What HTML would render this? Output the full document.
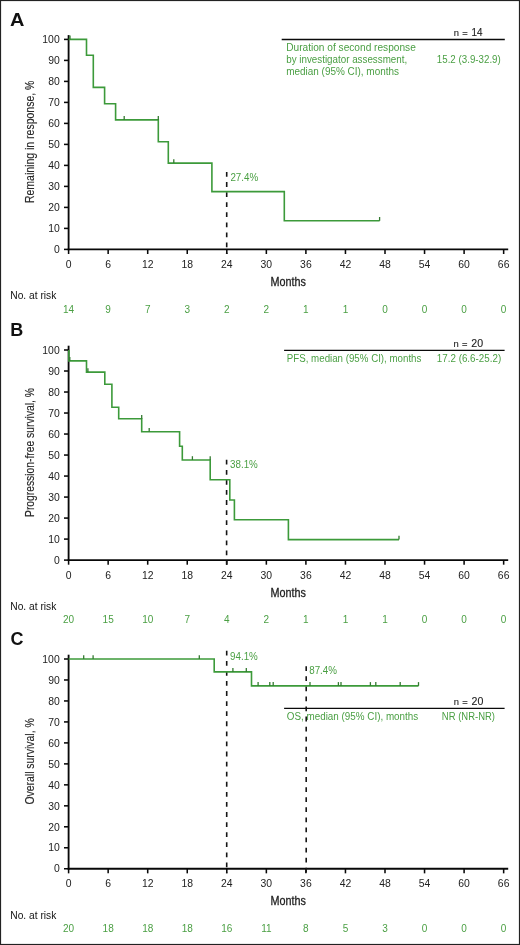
<!DOCTYPE html><html><head><meta charset="utf-8"><style>
html,body{margin:0;padding:0;background:#fff;}
body{width:520px;height:945px;overflow:hidden;position:relative;}
svg{position:absolute;left:0;top:0;display:block;will-change:transform;}
text{font-family:"Liberation Sans", sans-serif;}
</style></head><body>
<svg width="520" height="945" viewBox="0 0 520 945">
<rect x="0.5" y="0.5" width="519" height="944" fill="#fff" stroke="#222" stroke-width="1.2"/>
<text x="10.0" y="25.8" font-size="18" font-weight="bold" fill="#111" textLength="14.4" lengthAdjust="spacingAndGlyphs">A</text>
<g stroke="#080808" stroke-width="1.85" fill="none">
<line x1="68.60" y1="35.10" x2="68.60" y2="250.25"/>
<line x1="67.75" y1="249.40" x2="508.20" y2="249.40"/>
</g>
<g stroke="#080808" stroke-width="1.55" fill="none">
<line x1="64.00" y1="249.40" x2="68.60" y2="249.40"/>
<line x1="64.00" y1="228.40" x2="68.60" y2="228.40"/>
<line x1="64.00" y1="207.40" x2="68.60" y2="207.40"/>
<line x1="64.00" y1="186.40" x2="68.60" y2="186.40"/>
<line x1="64.00" y1="165.40" x2="68.60" y2="165.40"/>
<line x1="64.00" y1="144.40" x2="68.60" y2="144.40"/>
<line x1="64.00" y1="123.40" x2="68.60" y2="123.40"/>
<line x1="64.00" y1="102.40" x2="68.60" y2="102.40"/>
<line x1="64.00" y1="81.40" x2="68.60" y2="81.40"/>
<line x1="64.00" y1="60.40" x2="68.60" y2="60.40"/>
<line x1="64.00" y1="39.40" x2="68.60" y2="39.40"/>
<line x1="68.60" y1="249.40" x2="68.60" y2="254.00"/>
<line x1="108.15" y1="249.40" x2="108.15" y2="254.00"/>
<line x1="147.70" y1="249.40" x2="147.70" y2="254.00"/>
<line x1="187.25" y1="249.40" x2="187.25" y2="254.00"/>
<line x1="226.80" y1="249.40" x2="226.80" y2="254.00"/>
<line x1="266.35" y1="249.40" x2="266.35" y2="254.00"/>
<line x1="305.90" y1="249.40" x2="305.90" y2="254.00"/>
<line x1="345.45" y1="249.40" x2="345.45" y2="254.00"/>
<line x1="385.00" y1="249.40" x2="385.00" y2="254.00"/>
<line x1="424.55" y1="249.40" x2="424.55" y2="254.00"/>
<line x1="464.10" y1="249.40" x2="464.10" y2="254.00"/>
<line x1="503.65" y1="249.40" x2="503.65" y2="254.00"/>
</g>
<g font-size="10.4" fill="#222" text-anchor="end">
<text x="59.7" y="253.10">0</text>
<text x="59.7" y="232.10">10</text>
<text x="59.7" y="211.10">20</text>
<text x="59.7" y="190.10">30</text>
<text x="59.7" y="169.10">40</text>
<text x="59.7" y="148.10">50</text>
<text x="59.7" y="127.10">60</text>
<text x="59.7" y="106.10">70</text>
<text x="59.7" y="85.10">80</text>
<text x="59.7" y="64.10">90</text>
<text x="59.7" y="43.10">100</text>
</g>
<g font-size="10.4" fill="#222" text-anchor="middle">
<text x="68.60" y="267.80">0</text>
<text x="108.15" y="267.80">6</text>
<text x="147.70" y="267.80">12</text>
<text x="187.25" y="267.80">18</text>
<text x="226.80" y="267.80">24</text>
<text x="266.35" y="267.80">30</text>
<text x="305.90" y="267.80">36</text>
<text x="345.45" y="267.80">42</text>
<text x="385.00" y="267.80">48</text>
<text x="424.55" y="267.80">54</text>
<text x="464.10" y="267.80">60</text>
<text x="503.65" y="267.80">66</text>
</g>
<text x="270.6" y="285.90" font-size="13" fill="#222" stroke="#222" stroke-width="0.3" textLength="35.4" lengthAdjust="spacingAndGlyphs">Months</text>
<text x="10.3" y="299.20" font-size="10.1" fill="#111" textLength="46.0" lengthAdjust="spacingAndGlyphs">No. at risk</text>
<g font-size="10" fill="#4a9f43" text-anchor="middle">
<text x="68.60" y="312.70">14</text>
<text x="108.15" y="312.70">9</text>
<text x="147.70" y="312.70">7</text>
<text x="187.25" y="312.70">3</text>
<text x="226.80" y="312.70">2</text>
<text x="266.35" y="312.70">2</text>
<text x="305.90" y="312.70">1</text>
<text x="345.45" y="312.70">1</text>
<text x="385.00" y="312.70">0</text>
<text x="424.55" y="312.70">0</text>
<text x="464.10" y="312.70">0</text>
<text x="503.65" y="312.70">0</text>
</g>
<text transform="translate(33.6,141.85) rotate(-90)" text-anchor="middle" font-size="12" fill="#2a2a2a" stroke="#2a2a2a" stroke-width="0.15" textLength="122.4" lengthAdjust="spacingAndGlyphs">Remaining in response, %</text>
<line x1="226.70" y1="172.00" x2="226.70" y2="254.00" stroke="#151515" stroke-width="1.6" stroke-dasharray="4.8 5.28"/>
<polyline points="68.60,39.40 86.50,39.40 86.50,55.30 93.30,55.30 93.30,87.40 104.60,87.40 104.60,103.80 115.60,103.80 115.60,119.90 158.30,119.90 158.30,141.70 168.30,141.70 168.30,163.10 211.90,163.10 211.90,191.60 284.30,191.60 284.30,220.80 379.60,220.80" fill="none" stroke="#3c9a3a" stroke-width="1.6" stroke-linejoin="miter" stroke-linecap="butt"/>
<g stroke="#347a31" stroke-width="1.3">
<line x1="70.00" y1="35.60" x2="70.00" y2="39.40"/>
<line x1="124.20" y1="116.10" x2="124.20" y2="119.90"/>
<line x1="158.30" y1="116.10" x2="158.30" y2="119.90"/>
<line x1="173.80" y1="159.30" x2="173.80" y2="163.10"/>
<line x1="379.60" y1="217.00" x2="379.60" y2="220.80"/>
</g>
<text x="230.40" y="180.80" font-size="10" fill="#4a9f43" textLength="27.8" lengthAdjust="spacingAndGlyphs">27.4%</text>
<text x="10.3" y="335.7" font-size="18" font-weight="bold" fill="#111">B</text>
<g stroke="#080808" stroke-width="1.85" fill="none">
<line x1="68.60" y1="345.70" x2="68.60" y2="560.95"/>
<line x1="67.75" y1="560.10" x2="508.20" y2="560.10"/>
</g>
<g stroke="#080808" stroke-width="1.55" fill="none">
<line x1="64.00" y1="560.10" x2="68.60" y2="560.10"/>
<line x1="64.00" y1="539.09" x2="68.60" y2="539.09"/>
<line x1="64.00" y1="518.08" x2="68.60" y2="518.08"/>
<line x1="64.00" y1="497.07" x2="68.60" y2="497.07"/>
<line x1="64.00" y1="476.06" x2="68.60" y2="476.06"/>
<line x1="64.00" y1="455.05" x2="68.60" y2="455.05"/>
<line x1="64.00" y1="434.04" x2="68.60" y2="434.04"/>
<line x1="64.00" y1="413.03" x2="68.60" y2="413.03"/>
<line x1="64.00" y1="392.02" x2="68.60" y2="392.02"/>
<line x1="64.00" y1="371.01" x2="68.60" y2="371.01"/>
<line x1="64.00" y1="350.00" x2="68.60" y2="350.00"/>
<line x1="68.60" y1="560.10" x2="68.60" y2="564.70"/>
<line x1="108.15" y1="560.10" x2="108.15" y2="564.70"/>
<line x1="147.70" y1="560.10" x2="147.70" y2="564.70"/>
<line x1="187.25" y1="560.10" x2="187.25" y2="564.70"/>
<line x1="226.80" y1="560.10" x2="226.80" y2="564.70"/>
<line x1="266.35" y1="560.10" x2="266.35" y2="564.70"/>
<line x1="305.90" y1="560.10" x2="305.90" y2="564.70"/>
<line x1="345.45" y1="560.10" x2="345.45" y2="564.70"/>
<line x1="385.00" y1="560.10" x2="385.00" y2="564.70"/>
<line x1="424.55" y1="560.10" x2="424.55" y2="564.70"/>
<line x1="464.10" y1="560.10" x2="464.10" y2="564.70"/>
<line x1="503.65" y1="560.10" x2="503.65" y2="564.70"/>
</g>
<g font-size="10.4" fill="#222" text-anchor="end">
<text x="59.7" y="563.80">0</text>
<text x="59.7" y="542.79">10</text>
<text x="59.7" y="521.78">20</text>
<text x="59.7" y="500.77">30</text>
<text x="59.7" y="479.76">40</text>
<text x="59.7" y="458.75">50</text>
<text x="59.7" y="437.74">60</text>
<text x="59.7" y="416.73">70</text>
<text x="59.7" y="395.72">80</text>
<text x="59.7" y="374.71">90</text>
<text x="59.7" y="353.70">100</text>
</g>
<g font-size="10.4" fill="#222" text-anchor="middle">
<text x="68.60" y="578.50">0</text>
<text x="108.15" y="578.50">6</text>
<text x="147.70" y="578.50">12</text>
<text x="187.25" y="578.50">18</text>
<text x="226.80" y="578.50">24</text>
<text x="266.35" y="578.50">30</text>
<text x="305.90" y="578.50">36</text>
<text x="345.45" y="578.50">42</text>
<text x="385.00" y="578.50">48</text>
<text x="424.55" y="578.50">54</text>
<text x="464.10" y="578.50">60</text>
<text x="503.65" y="578.50">66</text>
</g>
<text x="270.6" y="596.60" font-size="13" fill="#222" stroke="#222" stroke-width="0.3" textLength="35.4" lengthAdjust="spacingAndGlyphs">Months</text>
<text x="10.3" y="609.90" font-size="10.1" fill="#111" textLength="46.0" lengthAdjust="spacingAndGlyphs">No. at risk</text>
<g font-size="10" fill="#4a9f43" text-anchor="middle">
<text x="68.60" y="623.40">20</text>
<text x="108.15" y="623.40">15</text>
<text x="147.70" y="623.40">10</text>
<text x="187.25" y="623.40">7</text>
<text x="226.80" y="623.40">4</text>
<text x="266.35" y="623.40">2</text>
<text x="305.90" y="623.40">1</text>
<text x="345.45" y="623.40">1</text>
<text x="385.00" y="623.40">1</text>
<text x="424.55" y="623.40">0</text>
<text x="464.10" y="623.40">0</text>
<text x="503.65" y="623.40">0</text>
</g>
<text transform="translate(33.6,452.50) rotate(-90)" text-anchor="middle" font-size="12" fill="#2a2a2a" stroke="#2a2a2a" stroke-width="0.15" textLength="129.0" lengthAdjust="spacingAndGlyphs">Progression-free survival, %</text>
<line x1="226.60" y1="459.80" x2="226.60" y2="564.70" stroke="#151515" stroke-width="1.6" stroke-dasharray="4.8 5.28"/>
<polyline points="68.90,350.00 68.90,360.90 86.50,360.90 86.50,372.10 104.80,372.10 104.80,384.20 111.90,384.20 111.90,407.30 118.70,407.30 118.70,418.80 141.70,418.80 141.70,431.70 179.60,431.70 179.60,446.20 182.30,446.20 182.30,460.00 210.20,460.00 210.20,479.80 229.80,479.80 229.80,500.00 234.40,500.00 234.40,519.80 288.40,519.80 288.40,539.60 399.00,539.60" fill="none" stroke="#3c9a3a" stroke-width="1.6" stroke-linejoin="miter" stroke-linecap="butt"/>
<g stroke="#347a31" stroke-width="1.3">
<line x1="69.80" y1="357.10" x2="69.80" y2="360.90"/>
<line x1="87.90" y1="368.30" x2="87.90" y2="372.10"/>
<line x1="141.70" y1="415.00" x2="141.70" y2="418.80"/>
<line x1="149.20" y1="427.90" x2="149.20" y2="431.70"/>
<line x1="192.40" y1="456.20" x2="192.40" y2="460.00"/>
<line x1="210.20" y1="456.20" x2="210.20" y2="460.00"/>
<line x1="399.00" y1="535.80" x2="399.00" y2="539.60"/>
</g>
<text x="230.00" y="467.50" font-size="10" fill="#4a9f43" textLength="27.8" lengthAdjust="spacingAndGlyphs">38.1%</text>
<text x="10.5" y="645.2" font-size="18" font-weight="bold" fill="#111">C</text>
<g stroke="#080808" stroke-width="1.85" fill="none">
<line x1="68.60" y1="654.70" x2="68.60" y2="869.60"/>
<line x1="67.75" y1="868.75" x2="508.20" y2="868.75"/>
</g>
<g stroke="#080808" stroke-width="1.55" fill="none">
<line x1="64.00" y1="868.75" x2="68.60" y2="868.75"/>
<line x1="64.00" y1="847.77" x2="68.60" y2="847.77"/>
<line x1="64.00" y1="826.80" x2="68.60" y2="826.80"/>
<line x1="64.00" y1="805.83" x2="68.60" y2="805.83"/>
<line x1="64.00" y1="784.85" x2="68.60" y2="784.85"/>
<line x1="64.00" y1="763.88" x2="68.60" y2="763.88"/>
<line x1="64.00" y1="742.90" x2="68.60" y2="742.90"/>
<line x1="64.00" y1="721.92" x2="68.60" y2="721.92"/>
<line x1="64.00" y1="700.95" x2="68.60" y2="700.95"/>
<line x1="64.00" y1="679.98" x2="68.60" y2="679.98"/>
<line x1="64.00" y1="659.00" x2="68.60" y2="659.00"/>
<line x1="68.60" y1="868.75" x2="68.60" y2="873.35"/>
<line x1="108.15" y1="868.75" x2="108.15" y2="873.35"/>
<line x1="147.70" y1="868.75" x2="147.70" y2="873.35"/>
<line x1="187.25" y1="868.75" x2="187.25" y2="873.35"/>
<line x1="226.80" y1="868.75" x2="226.80" y2="873.35"/>
<line x1="266.35" y1="868.75" x2="266.35" y2="873.35"/>
<line x1="305.90" y1="868.75" x2="305.90" y2="873.35"/>
<line x1="345.45" y1="868.75" x2="345.45" y2="873.35"/>
<line x1="385.00" y1="868.75" x2="385.00" y2="873.35"/>
<line x1="424.55" y1="868.75" x2="424.55" y2="873.35"/>
<line x1="464.10" y1="868.75" x2="464.10" y2="873.35"/>
<line x1="503.65" y1="868.75" x2="503.65" y2="873.35"/>
</g>
<g font-size="10.4" fill="#222" text-anchor="end">
<text x="59.7" y="872.45">0</text>
<text x="59.7" y="851.48">10</text>
<text x="59.7" y="830.50">20</text>
<text x="59.7" y="809.53">30</text>
<text x="59.7" y="788.55">40</text>
<text x="59.7" y="767.58">50</text>
<text x="59.7" y="746.60">60</text>
<text x="59.7" y="725.62">70</text>
<text x="59.7" y="704.65">80</text>
<text x="59.7" y="683.68">90</text>
<text x="59.7" y="662.70">100</text>
</g>
<g font-size="10.4" fill="#222" text-anchor="middle">
<text x="68.60" y="887.15">0</text>
<text x="108.15" y="887.15">6</text>
<text x="147.70" y="887.15">12</text>
<text x="187.25" y="887.15">18</text>
<text x="226.80" y="887.15">24</text>
<text x="266.35" y="887.15">30</text>
<text x="305.90" y="887.15">36</text>
<text x="345.45" y="887.15">42</text>
<text x="385.00" y="887.15">48</text>
<text x="424.55" y="887.15">54</text>
<text x="464.10" y="887.15">60</text>
<text x="503.65" y="887.15">66</text>
</g>
<text x="270.6" y="905.25" font-size="13" fill="#222" stroke="#222" stroke-width="0.3" textLength="35.4" lengthAdjust="spacingAndGlyphs">Months</text>
<text x="10.3" y="918.55" font-size="10.1" fill="#111" textLength="46.0" lengthAdjust="spacingAndGlyphs">No. at risk</text>
<g font-size="10" fill="#4a9f43" text-anchor="middle">
<text x="68.60" y="932.05">20</text>
<text x="108.15" y="932.05">18</text>
<text x="147.70" y="932.05">18</text>
<text x="187.25" y="932.05">18</text>
<text x="226.80" y="932.05">16</text>
<text x="266.35" y="932.05">11</text>
<text x="305.90" y="932.05">8</text>
<text x="345.45" y="932.05">5</text>
<text x="385.00" y="932.05">3</text>
<text x="424.55" y="932.05">0</text>
<text x="464.10" y="932.05">0</text>
<text x="503.65" y="932.05">0</text>
</g>
<text transform="translate(33.6,761.40) rotate(-90)" text-anchor="middle" font-size="12" fill="#2a2a2a" stroke="#2a2a2a" stroke-width="0.15" textLength="86.2" lengthAdjust="spacingAndGlyphs">Overall survival, %</text>
<line x1="226.70" y1="650.80" x2="226.70" y2="873.35" stroke="#151515" stroke-width="1.6" stroke-dasharray="4.8 5.28"/>
<line x1="306.20" y1="666.20" x2="306.20" y2="873.35" stroke="#151515" stroke-width="1.6" stroke-dasharray="4.8 5.28"/>
<polyline points="68.60,659.00 214.20,659.00 214.20,671.90 251.50,671.90 251.50,685.90 418.50,685.90" fill="none" stroke="#3c9a3a" stroke-width="1.6" stroke-linejoin="miter" stroke-linecap="butt"/>
<g stroke="#347a31" stroke-width="1.3">
<line x1="83.70" y1="655.20" x2="83.70" y2="659.00"/>
<line x1="93.10" y1="655.20" x2="93.10" y2="659.00"/>
<line x1="199.30" y1="655.20" x2="199.30" y2="659.00"/>
<line x1="232.90" y1="668.10" x2="232.90" y2="671.90"/>
<line x1="246.30" y1="668.10" x2="246.30" y2="671.90"/>
<line x1="258.10" y1="682.10" x2="258.10" y2="685.90"/>
<line x1="269.80" y1="682.10" x2="269.80" y2="685.90"/>
<line x1="273.20" y1="682.10" x2="273.20" y2="685.90"/>
<line x1="310.00" y1="682.10" x2="310.00" y2="685.90"/>
<line x1="338.40" y1="682.10" x2="338.40" y2="685.90"/>
<line x1="341.00" y1="682.10" x2="341.00" y2="685.90"/>
<line x1="370.40" y1="682.10" x2="370.40" y2="685.90"/>
<line x1="375.80" y1="682.10" x2="375.80" y2="685.90"/>
<line x1="400.20" y1="682.10" x2="400.20" y2="685.90"/>
<line x1="418.50" y1="682.10" x2="418.50" y2="685.90"/>
</g>
<text x="230.00" y="660.40" font-size="10" fill="#4a9f43" textLength="27.8" lengthAdjust="spacingAndGlyphs">94.1%</text>
<text x="309.20" y="674.00" font-size="10" fill="#4a9f43" textLength="27.8" lengthAdjust="spacingAndGlyphs">87.4%</text>
<line x1="281.7" y1="39.5" x2="504.8" y2="39.5" stroke="#0a0a0a" stroke-width="1.3"/>
<g fill="#222" stroke="#222" stroke-width="0.12"><text x="453.7" y="35.8" font-size="9.4" textLength="14.0" lengthAdjust="spacing">n =</text><text x="471.6" y="35.8" font-size="10.3" textLength="11.0" lengthAdjust="spacingAndGlyphs">14</text></g>
<g font-size="10" fill="#4a9f43">
<text x="286.2" y="51.1" textLength="129.6" lengthAdjust="spacingAndGlyphs">Duration of second response</text>
<text x="286.2" y="63.4" textLength="121.0" lengthAdjust="spacingAndGlyphs">by investigator assessment,</text>
<text x="286.2" y="75.2" textLength="112.8" lengthAdjust="spacingAndGlyphs">median (95% CI), months</text>
<text x="436.8" y="63.4" font-size="10.4" textLength="64.0" lengthAdjust="spacingAndGlyphs">15.2 (3.9-32.9)</text>
</g>
<line x1="284.1" y1="350.4" x2="504.6" y2="350.4" stroke="#0a0a0a" stroke-width="1.3"/>
<g fill="#222" stroke="#222" stroke-width="0.12"><text x="453.5" y="346.8" font-size="9.4" textLength="14.0" lengthAdjust="spacing">n =</text><text x="471.3" y="346.8" font-size="10.3" textLength="11.8" lengthAdjust="spacingAndGlyphs">20</text></g>
<g font-size="10" fill="#4a9f43">
<text x="286.8" y="361.7" textLength="134.6" lengthAdjust="spacingAndGlyphs">PFS, median (95% CI), months</text>
<text x="436.8" y="361.6" font-size="10.4" textLength="64.4" lengthAdjust="spacingAndGlyphs">17.2 (6.6-25.2)</text>
</g>
<line x1="284.1" y1="708.3" x2="504.6" y2="708.3" stroke="#0a0a0a" stroke-width="1.3"/>
<g fill="#222" stroke="#222" stroke-width="0.12"><text x="453.7" y="704.6" font-size="9.4" textLength="14.0" lengthAdjust="spacing">n =</text><text x="471.6" y="704.6" font-size="10.3" textLength="11.8" lengthAdjust="spacingAndGlyphs">20</text></g>
<g font-size="10" fill="#4a9f43">
<text x="286.8" y="719.7" textLength="131.4" lengthAdjust="spacingAndGlyphs">OS, median (95% CI), months</text>
<text x="441.8" y="719.7" font-size="10.4" textLength="53.2" lengthAdjust="spacingAndGlyphs">NR (NR-NR)</text>
</g>
</svg></body></html>
